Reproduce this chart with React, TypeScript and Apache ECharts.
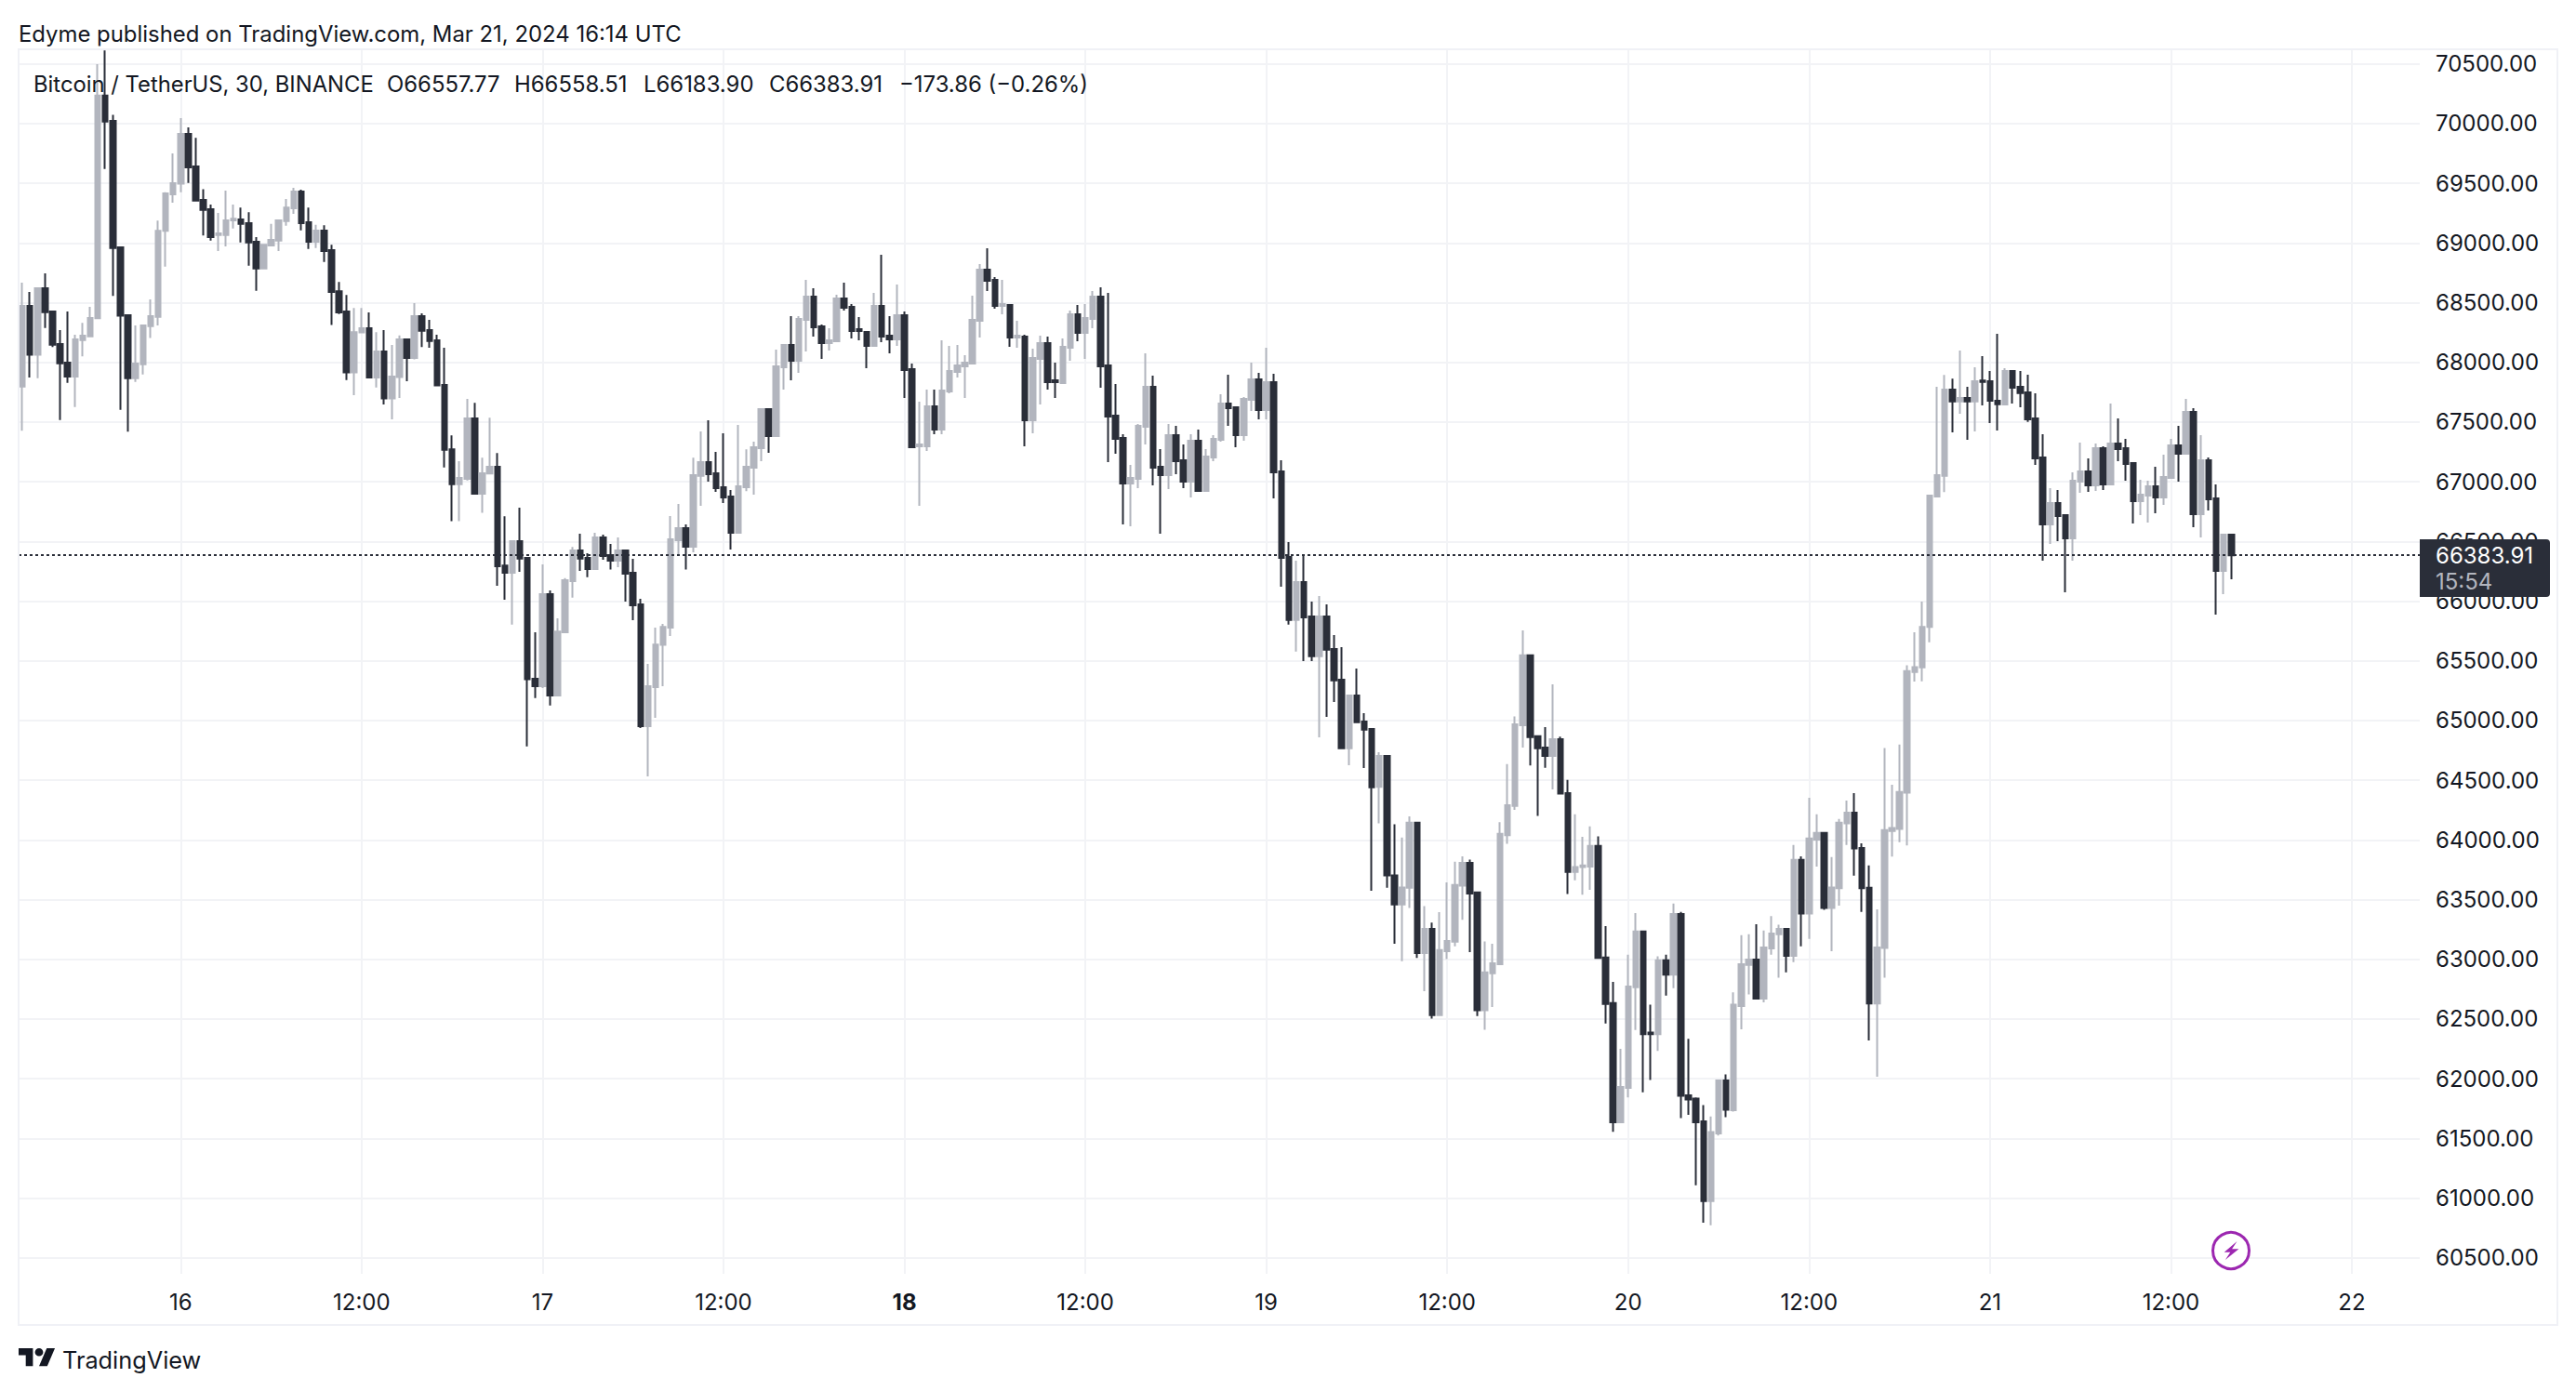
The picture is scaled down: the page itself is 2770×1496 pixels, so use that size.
import React, { useEffect, useRef } from "react";
import * as echarts from "echarts";

const opens = [67798,68473,68063,68621,68426,68153,67998,67881,68187,68218,68369,70235,70023,68963,68395,67868,67985,68304,68382,69101,69407,69496,69913,69641,69361,69283,69067,69067,69189,69197,69166,69010,68787,68979,69020,69184,69290,69431,69174,69010,69104,68940,68595,68426,67915,68250,68286,67873,68091,67697,67876,68192,68037,68387,68270,68185,67811,67271,66980,67024,67530,66900,67068,67125,66297,66238,66502,66362,65350,65287,66058,65210,65739,66168,66425,66362,66269,66533,66386,66339,66425,66238,65973,64953,65280,65633,65778,66510,66611,66456,67050,67164,67071,66954,66876,66572,66954,67118,67281,67608,67382,67959,68146,68013,68356,68551,68301,68161,68177,68535,68465,68278,68255,68138,68473,68224,68192,68395,67943,67297,67297,67632,67437,67756,67920,67966,67990,68348,68777,68691,68473,68480,68208,68216,67515,68029,68161,67850,67826,68122,68403,68247,68364,68551,67974,67554,67367,66985,67024,67460,67795,67125,67055,67390,67180,67001,67344,66923,67203,67351,67655,67624,67390,67686,67858,67601,67834,67087,66370,65843,66160,65872,65539,65872,65599,65342,64768,65210,64992,64929,64444,64704,63703,63460,63599,64145,63053,63255,62532,63067,63147,63616,63807,63561,62573,62883,62959,64040,64284,64961,65546,64868,64774,64704,64843,64391,63731,63773,63776,63950,63015,62633,61635,61923,62765,63234,62386,62372,62991,62872,63380,61861,61833,61642,60975,61541,61986,61736,62608,62952,62998,62671,63091,63210,63255,63029,63832,63383,64002,64058,63429,63595,64138,64228,63933,63599,62629,63095,64075,64092,64395,65406,65446,65783,66876,67050,67772,67673,67702,67673,67847,67842,67679,67647,67928,67795,67749,67531,67203,66643,66822,66721,66526,67001,67087,66970,67281,66978,67320,67281,67157,66837,66884,66962,66869,67032,67305,67235,67585,66728,67180,66861,66253,66557.77];
const highs = [68667,68590,68626,68745,68426,68270,68426,68231,68330,68465,70498,70612,70074,68963,68400,68309,68309,68527,69187,69425,69750,70046,69968,69880,69451,69322,69251,69438,69322,69296,69257,69049,68984,69161,69189,69368,69462,69446,69296,69153,69148,68984,68673,68564,68455,68455,68418,68252,68270,68146,68226,68192,68496,68410,68356,68231,68122,67388,67172,67694,67660,67201,67536,67240,66710,66510,66783,66367,65739,66308,66090,65856,66193,66453,66565,66401,66572,66557,66479,66533,66425,66354,66020,65474,65778,65809,66713,66814,66643,67201,67421,67515,67250,67406,66931,67476,67271,67336,67608,67608,68107,68146,68387,68387,68691,68621,68317,68286,68566,68667,68488,68379,68262,68582,68901,68387,68652,68426,67990,67671,67772,67772,68185,68138,68146,68060,68558,68823,68956,68714,68691,68480,68348,68231,68114,68224,68216,67998,68200,68434,68480,68488,68597,68629,68582,67819,67398,67141,67484,68076,67889,67273,67484,67468,67312,67398,67437,67273,67390,67733,67896,67632,67710,67998,67912,68122,67904,67180,66495,66339,66386,65996,66043,65973,65716,65615,65210,65435,65062,64929,64735,64711,64131,64019,64197,64145,63446,63307,63394,63644,63818,63863,63835,63561,63150,63130,64148,64635,65035,65754,65546,64875,64944,65302,64864,64503,64214,64026,64113,64030,63279,62810,62250,63039,63387,63241,62619,63025,63039,63467,63397,62334,61843,61778,61684,61993,62035,62723,63203,63210,63293,63241,63362,63290,63255,63957,63863,64353,64214,64058,63856,64176,64329,64391,63971,63787,63418,64770,64461,64798,65462,65740,65996,66884,67795,67894,67863,68099,67795,67959,68052,67928,68239,67951,67928,67928,67897,67741,67398,66947,66931,66721,67079,67328,67196,67320,67297,67655,67531,67359,67165,67017,67009,67126,67227,67359,67468,67694,67616,67390,67203,66978,66557,66558.51];
const lows = [67427,67873,67868,68288,68128,67517,67829,67626,68050,68218,68369,69620,68556,67603,67419,67837,67899,68205,68309,68802,69337,69425,69503,69355,69062,69020,68932,68971,69122,69005,68810,68600,68787,68979,68932,69145,69244,69106,68950,68958,68841,68314,68405,67852,67725,68250,67868,67790,67647,67523,67702,67842,68024,68128,68122,67806,67120,66669,66669,67011,66894,66739,67068,66129,66012,65804,66245,64784,65189,65272,65126,65210,65739,66030,66253,66201,66269,66347,66264,66284,65996,65840,64937,64532,65023,65287,65708,66388,66264,66409,66798,67001,66915,66822,66432,66572,66920,66892,67172,67242,67382,67772,67850,67912,68091,68216,68029,68099,68177,68434,68200,68185,67951,68138,68169,68076,68138,67702,67289,66798,67258,67398,67398,67741,67873,67702,67982,68208,68597,68449,68403,68130,68122,67297,67406,67647,67772,67702,67826,68013,68177,68029,68286,67787,67164,67235,66643,66627,66946,67312,66970,66565,66939,67063,66946,66868,66915,66923,67172,67336,67468,67289,67344,67593,67523,67523,66861,66121,65804,65578,65498,65498,64859,65031,65155,64761,64626,64986,64602,63574,64138,63599,63130,62984,63429,63011,62733,62504,62532,63001,63109,63331,63060,62525,62410,62601,62959,63967,64252,64774,64624,64200,64603,64423,64388,63547,63661,63540,63582,63011,62462,61555,61635,61843,62407,61885,61990,62233,62695,62758,61670,61698,61107,60794,60773,61524,61677,61725,62414,62706,62664,62640,63039,62845,62890,62977,63109,63171,63776,63415,63067,63449,63957,63700,63397,62320,62017,62845,63860,63981,63953,65326,65329,65656,66869,66913,67414,67570,67351,67422,67640,67492,67429,67647,67655,67624,67502,67141,66339,66479,66502,66074,66339,66908,66915,66923,66931,66978,67172,67009,66651,66721,66658,66736,66806,67032,67001,67235,66619,66534,66760,65887,66059,66183.9];
const closes = [68473,68063,68621,68421,68148,67992,67881,68192,68224,68371,70235,70017,68958,68390,67868,67990,68309,68387,69101,69415,69501,69913,69633,69355,69277,69049,69080,69189,69202,69161,69005,68787,68984,69026,69189,69296,69431,69166,69010,69104,68932,68590,68418,67915,68252,68286,67873,68091,67697,67881,68192,68037,68387,68265,68179,67806,67268,66980,67032,67530,66900,67071,67125,66292,66238,66502,66357,65345,65287,66058,65210,65744,66175,66425,66357,66269,66533,66378,66339,66425,66230,65965,64953,65287,65635,65783,66518,66611,66456,67055,67164,67063,66946,66868,66572,66962,67125,67289,67608,67382,67966,68146,68013,68364,68551,68294,68161,68185,68535,68457,68262,68262,68138,68473,68216,68192,68395,67935,67289,67312,67632,67437,67764,67928,67974,67998,68356,68777,68683,68473,68488,68208,68224,67515,68037,68161,67834,67834,68130,68403,68247,68371,68551,67966,67546,67359,66985,67032,67468,67795,67118,67055,67390,67172,67001,67344,66923,67211,67359,67655,67616,67390,67694,67858,67601,67834,67079,66362,65843,66160,65864,65539,65872,65594,65337,64768,65210,64986,64924,64441,64704,63703,63460,63602,64145,63053,63255,62532,63077,63154,63623,63807,63550,62573,62890,62966,64051,64291,64968,65546,64861,64767,64704,64843,64388,63731,63773,63787,63950,63011,62626,61635,61930,62772,63234,62372,62372,62991,62872,63380,61857,61826,61635,60975,61552,61986,61739,62619,62959,62998,62671,63098,63216,63255,63029,63832,63383,64012,64058,63429,63602,64145,64228,63929,63595,62629,63098,64082,64099,64402,65413,65448,65783,66884,67056,67772,67673,67702,67673,67842,67837,67679,67650,67928,67788,67743,67523,67196,66643,66822,66713,66526,67009,67087,66970,67281,66978,67320,67274,67149,66837,66892,66962,66869,67040,67305,67235,67585,66728,67180,66853,66253,66557,66383.91];

const firstTickBar = 21;
const barsPerTick = 24;
const barSlots = 319;
const timeLabels = ["16","12:00","17","12:00","18","12:00","19","12:00","20","12:00","21","12:00","22"];
const priceAxisMin = 60000;
const priceAxisMax = 71000;
const priceStep = 500;
const lastPrice = 66383.91;
const countdown = "15:54";
const publishLine = "Edyme published on TradingView.com, Mar 21, 2024 16:14 UTC";
const symbolLine = "Bitcoin / TetherUS, 30, BINANCE";
const ohlcLabels = ["O66557.77","H66558.51","L66183.90","C66383.91","\u2212173.86 (\u22120.26%)"];
const ohlcLabelX = [416,553,692,827,967];

const UP = "#B2B5BE";
const DOWN = "#2A2E39";
const TEXT = "#131722";
const GRIDC = "#F2F3F6";
const FONT = "Inter, 'Noto Sans', sans-serif";

echarts.graphic.registerShape(
  "tvlogo",
  echarts.graphic.extendPath("M14 22H7V11H0V4h14v18zM28 22h-8l7.5-18h8L28 22zM24 8a4 4 0 1 1-8 0 4 4 0 0 1 8 0z", {})
);

const categories: string[] = Array.from({ length: barSlots }, (_, i) => {
  const off = i - firstTickBar;
  if (off >= 0 && off % barsPerTick === 0) return timeLabels[off / barsPerTick] ?? "";
  return "";
});
const candles = opens.map((o, i) => [o, closes[i], lows[i], highs[i]]);

export default function App() {
  const ref = useRef<HTMLDivElement>(null);
  useEffect(() => {
    document.body.style.margin = "0";
    const chart = echarts.init(ref.current!, undefined, { renderer: "svg" });
    const isTick = (i: number) => {
      const off = i - firstTickBar;
      return off >= 0 && off % barsPerTick === 0;
    };
    const txt = (text: string, x: number, y: number, fontSize = 24, fill = TEXT, z = 102) => ({
      type: "text", x, y, z, silent: true,
      style: { text, fill, font: `${fontSize}px ${FONT}`, textVerticalAlign: "middle", verticalAlign: "middle", textAlign: "left" },
    });
    chart.setOption({
      animation: false,
      backgroundColor: "#ffffff",
      grid: [
        { left: 20, top: 4.5, width: 2586, height: 1412.4 },
        { left: 20, top: 53, width: 2586, height: 1317 },
      ],
      xAxis: [
        { type: "category", gridIndex: 0, data: categories, show: false },
        {
          type: "category", gridIndex: 1, data: categories, position: "bottom",
          axisLine: { show: false }, axisTick: { show: false },
          axisLabel: {
            interval: (i: number) => isTick(i), margin: 18, color: TEXT, fontSize: 24, fontFamily: FONT,
            formatter: (v: string) => (v === "18" ? "{b|18}" : v),
            rich: { b: { fontWeight: 700, fontSize: 24, color: TEXT, fontFamily: FONT } },
          },
          splitLine: { show: true, interval: (i: number) => isTick(i), alignWithLabel: true, lineStyle: { color: GRIDC, width: 2 } },
        },
      ],
      yAxis: [
        {
          type: "value", gridIndex: 0, position: "right", min: priceAxisMin, max: priceAxisMax, interval: priceStep, scale: true,
          axisLine: { show: false }, axisTick: { show: false },
          axisLabel: {
            margin: 13, color: TEXT, fontSize: 24, fontFamily: FONT, showMinLabel: false, showMaxLabel: false,
            padding: [2, 0, 0, 0],
            formatter: (v: number) => v.toFixed(2),
          },
          splitLine: { show: true, showMinLine: false, showMaxLine: false, lineStyle: { color: GRIDC, width: 2 } },
        },
        { type: "value", gridIndex: 1, min: 0, max: 1, show: false, splitLine: { show: false } },
      ],
      series: [
        {
          type: "candlestick", xAxisIndex: 0, yAxisIndex: 0, data: candles, barWidth: 6, clip: false,
          itemStyle: { color: UP, color0: DOWN, borderColor: UP, borderColor0: DOWN, borderWidth: 2 },
          markLine: {
            silent: true, symbol: "none", label: { show: false }, animation: false,
            lineStyle: { color: DOWN, width: 2, type: [3, 3], opacity: 1 },
            data: [{ yAxis: lastPrice }],
          },
        },
      ],
      graphic: { elements: [
        { type: "rect", z: 100, silent: true, shape: { x: 2602, y: 54, width: 8, height: 1316 }, style: { fill: "#fff" } },
        { type: "rect", z: 100, silent: true, shape: { x: 20, y: 53, width: 2730, height: 1372 }, style: { fill: "none", stroke: "#F0F1F6", lineWidth: 2 } },
        { type: "rect", z: 101, silent: true, shape: { x: 2602, y: 580, width: 140, height: 62, r: [0, 4, 4, 0] }, style: { fill: DOWN } },
        txt(lastPrice.toFixed(2), 2619, 597, 24, "#FFFFFF"),
        txt(countdown, 2619, 625, 24, "#B2B5BE"),
        txt(publishLine, 20, 36, 23.9),
        txt(symbolLine, 36, 90, 23.8),
        ...ohlcLabels.map((t, i) => txt(t, ohlcLabelX[i], 90, 23.9)),
        { type: "tvlogo", x: 20, y: 1445.7, scaleX: 1.1, scaleY: 1.07, z: 102, silent: true, style: { fill: TEXT } },
        txt("TradingView", 67, 1462, 25.3),
        { type: "circle", z: 102, silent: true, shape: { cx: 2399, cy: 1345, r: 19.5 }, style: { fill: "#fff", stroke: "#9C27B0", lineWidth: 3 } },
        {
          type: "polygon", z: 103, silent: true, x: 2399, y: 1345,
          shape: { points: [[6.5,-10],[-7.3,1.7],[-0.7,1.7],[-6.2,10],[8.4,-1.7],[1.1,-1.7]] },
          style: { fill: "#9C27B0" },
        },
      ] },
    });
    return () => chart.dispose();
  }, []);
  return <div ref={ref} style={{ position: "fixed", left: 0, top: 0, width: 2770, height: 1496, background: "#fff" }} />;
}
